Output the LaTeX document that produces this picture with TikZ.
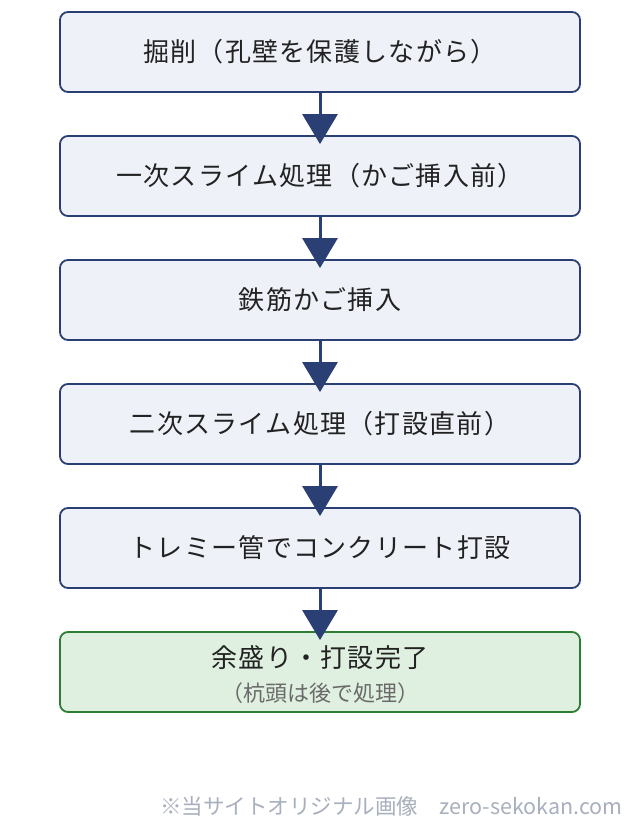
\documentclass[tikz,border=0pt]{standalone}
\usepackage{fontspec}
\setmainfont{Noto Sans CJK JP}
\newfontfamily\jpls[LetterSpace=5]{Noto Sans CJK JP}
\usetikzlibrary{arrows.meta}
\definecolor{navy}{HTML}{2A3F74}
\definecolor{boxfill}{HTML}{EEF1F8}
\definecolor{gfill}{HTML}{E0F0E0}
\definecolor{gline}{HTML}{2E7D32}
\definecolor{txt}{HTML}{222222}
\definecolor{subtxt}{HTML}{6A6A6A}
\definecolor{foot}{HTML}{A8AFBD}
\tikzset{
  stepbox/.style={draw=navy, fill=boxfill, line width=1.8pt, rounded corners=8pt,
    minimum width=520pt, minimum height=80pt, inner sep=0pt, text=txt,
    font=\jpls\fontsize{26pt}{32pt}\selectfont},
  donebox/.style={stepbox, draw=gline, fill=gfill},
  flowarrow/.style={draw=navy, line width=3pt, -{Triangle[width=35pt,length=30pt]}},
}
\begin{document}
\begin{tikzpicture}[x=1pt,y=-1pt]
\useasboundingbox (0,0) rectangle (640,828);
\fill[white] (0,0) rectangle (640,828);
\node[stepbox] (b1) at (320,52) {掘削（孔壁を保護しながら）};
\node[stepbox] (b2) at (320,176) {一次スライム処理（かご挿入前）};
\node[stepbox] (b3) at (320,300) {鉄筋かご挿入};
\node[stepbox] (b4) at (320,424) {二次スライム処理（打設直前）};
\node[stepbox] (b5) at (320,548) {トレミー管でコンクリート打設};
\node[donebox] (b6) at (320,672) {};
\node[text=txt, font=\jpls\fontsize{26pt}{32pt}\selectfont] (t6) at (320,658) {余盛り・打設完了};
\node[text=subtxt, font=\fontsize{22pt}{26pt}\selectfont] (s6) at (320,693) {（杭頭は後で処理）};
\draw[flowarrow] (b1.south) -- ([yshift=-9pt]b2.north);
\draw[flowarrow] (b2.south) -- ([yshift=-9pt]b3.north);
\draw[flowarrow] (b3.south) -- ([yshift=-9pt]b4.north);
\draw[flowarrow] (b4.south) -- ([yshift=-9pt]b5.north);
\draw[flowarrow] (b5.south) -- ([yshift=-9pt]b6.north);
\node[anchor=east, text=foot, font=\fontsize{21.5pt}{26pt}\selectfont, inner sep=0pt] (ft) at (623,806) {※当サイトオリジナル画像　zero-sekokan.com};
\end{tikzpicture}
\end{document}
